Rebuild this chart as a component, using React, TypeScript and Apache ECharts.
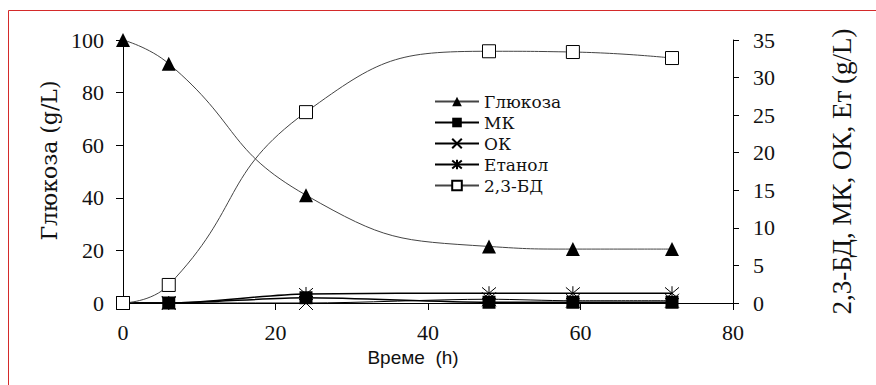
import React, { useEffect, useRef } from "react";
import * as echarts from "echarts";

// Fermentation time course (hours)
const time = [0, 6, 24, 48, 59, 72];
const glucose = [100, 91, 41, 21.5, 20.5, 20.5];
const mk = [0, 0, 0.7, 0.1, 0.1, 0.1];
const ok = [0, 0, 0, 0.5, 0.3, 0.3];
const ethanol = [0, 0, 1.2, 1.3, 1.3, 1.3];
const bd = [0, 2.4, 25.4, 33.5, 33.4, 32.6];

const names = ["Глюкоза", "МК", "ОК", "Етанол", "2,3-БД"];

const X_PATH = "path://M0,0L10,10M10,0L0,10";
const STAR_PATH = "path://M0,0L10,10M10,0L0,10M5,-1L5,11";

const pairs = (ys: number[]) => time.map((t, i) => [t, ys[i]]);

export default function App() {
  const ref = useRef<HTMLDivElement>(null);

  useEffect(() => {
    if (!ref.current) return;
    const chart = echarts.init(ref.current, undefined, { renderer: "svg" });
    const serif = "'Times New Roman', 'Liberation Serif', serif";
    const slab = "'DejaVu Serif', serif";
    const lineBase = { color: "#444", width: 1 };

    chart.setOption({
      animation: false,
      backgroundColor: "#fff",
      graphic: [
        {
          type: "rect",
          shape: { x: 8.5, y: 10.5, width: 900, height: 400 },
          style: { fill: "none", stroke: "#d42a2a", lineWidth: 1 },
          silent: true,
          z: -1,
        },
      ],
      grid: { left: 123, right: 143, top: 40, bottom: 82 },
      legend: {
        orient: "vertical",
        left: 429,
        top: 88,
        itemWidth: 44,
        itemHeight: 12,
        itemGap: 4,
        textStyle: { fontFamily: slab, fontSize: 17, color: "#111" },
        data: names,
      },
      xAxis: {
        type: "value",
        min: 0,
        max: 80,
        interval: 20,
        name: "Време  (h)",
        nameLocation: "middle",
        nameGap: 45,
        nameTextStyle: {
          fontFamily: "'Liberation Sans', Arial, sans-serif",
          fontSize: 19,
          color: "#111",
          padding: [0, 30, 0, 0],
        },
        axisLine: { lineStyle: { color: "#000", width: 1 } },
        axisTick: { inside: false, length: 7, lineStyle: { color: "#000" } },
        axisLabel: { fontFamily: serif, fontSize: 22, color: "#111", margin: 18 },
        splitLine: { show: false },
      },
      yAxis: [
        {
          type: "value",
          min: 0,
          max: 100,
          interval: 20,
          position: "left",
          name: "Глюкоза (g/L)",
          nameLocation: "middle",
          nameGap: 62,
          nameRotate: 90,
          nameTextStyle: {
            fontFamily: slab,
            fontSize: 22,
            color: "#111",
            padding: [0, 0, 0, 22],
          },
          axisLine: { show: true, lineStyle: { color: "#000", width: 1 } },
          axisTick: { show: true, length: 7, lineStyle: { color: "#000" } },
          axisLabel: { fontFamily: serif, fontSize: 22, color: "#111", margin: 19 },
          splitLine: { show: false },
        },
        {
          type: "value",
          min: 0,
          max: 35,
          interval: 5,
          position: "right",
          name: "2,3-БД, МК, ОК, Ет (g/L)",
          nameLocation: "middle",
          nameGap: 95,
          nameRotate: 90,
          nameTextStyle: { fontFamily: serif, fontSize: 27, color: "#111" },
          axisLine: { show: true, lineStyle: { color: "#000", width: 1 } },
          axisTick: { show: true, length: 6, lineStyle: { color: "#000" } },
          axisLabel: { fontFamily: serif, fontSize: 22, color: "#111", margin: 20 },
          splitLine: { show: false },
        },
      ],
      series: [
        {
          name: names[0],
          type: "line",
          yAxisIndex: 0,
          data: pairs(glucose),
          smooth: 0.5,
          symbol: "triangle",
          symbolSize: 14,
          itemStyle: { color: "#000" },
          lineStyle: lineBase,
          z: 5,
        },
        {
          name: names[1],
          type: "line",
          yAxisIndex: 1,
          data: pairs(mk),
          smooth: 0.3,
          symbol: "rect",
          symbolSize: 13,
          itemStyle: { color: "#000" },
          lineStyle: { color: "#000", width: 1.5 },
          z: 4,
        },
        {
          name: names[2],
          type: "line",
          yAxisIndex: 1,
          data: pairs(ok),
          smooth: 0.3,
          symbol: X_PATH,
          symbolSize: 14,
          itemStyle: { color: "none", borderColor: "#000", borderWidth: 1 },
          lineStyle: { color: "#000", width: 1 },
          z: 3,
        },
        {
          name: names[3],
          type: "line",
          yAxisIndex: 1,
          data: pairs(ethanol),
          smooth: 0.3,
          symbol: STAR_PATH,
          symbolSize: 14,
          itemStyle: { color: "none", borderColor: "#000", borderWidth: 1 },
          lineStyle: { color: "#000", width: 1.5 },
          z: 3,
        },
        {
          name: names[4],
          type: "line",
          yAxisIndex: 1,
          data: pairs(bd),
          smooth: 0.5,
          symbol: "rect",
          symbolSize: 13,
          itemStyle: { color: "#fff", borderColor: "#000", borderWidth: 1 },
          lineStyle: lineBase,
          z: 5,
        },
      ],
    });

    return () => chart.dispose();
  }, []);

  return (
    <div
      ref={ref}
      style={{ position: "absolute", left: 0, top: 0, width: 876, height: 385 }}
    />
  );
}
